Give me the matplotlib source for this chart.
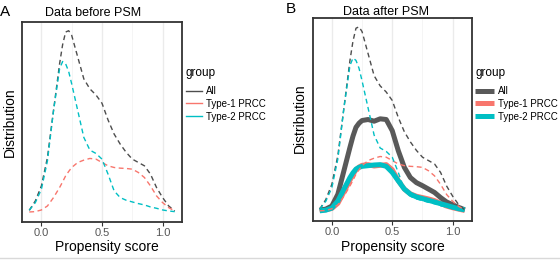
import matplotlib
matplotlib.use("Agg")
import matplotlib.pyplot as plt
from matplotlib.lines import Line2D

plt.rcParams['font.family'] = ['Liberation Sans', 'DejaVu Sans']

# propensity score grid (evaluation points)
score = [-0.10, -0.05, 0.00, 0.05, 0.10, 0.15, 0.175, 0.20, 0.225, 0.25,
         0.30, 0.35, 0.40, 0.45, 0.50, 0.55, 0.60, 0.65, 0.70, 0.75,
         0.80, 0.85, 0.90, 0.95, 1.00, 1.05, 1.10]

# before PSM (dashed)
all_before = [0.05, 0.33, 0.78, 1.63, 3.03, 4.43, 5.00, 5.38, 5.42, 5.28,
              4.63, 3.98, 3.68, 3.50, 3.25, 2.75, 2.33, 2.03, 1.78, 1.58,
              1.48, 1.38, 1.13, 0.73, 0.43, 0.18, 0.03]
type1_before = [0.00, 0.01, 0.06, 0.18, 0.43, 0.73, 0.90, 1.08, 1.21, 1.33,
                1.48, 1.55, 1.60, 1.58, 1.48, 1.38, 1.33, 1.31, 1.30, 1.28,
                1.18, 1.03, 0.78, 0.48, 0.28, 0.13, 0.03]
type2_before = [0.05, 0.28, 0.68, 1.53, 3.03, 4.28, 4.50, 4.43, 4.20, 3.83,
                3.03, 2.23, 1.85, 1.75, 1.58, 1.13, 0.63, 0.43, 0.35, 0.30,
                0.25, 0.21, 0.15, 0.11, 0.06, 0.03, 0.01]

# after PSM (solid, thick)
all_after = [0.02, 0.05, 0.14, 0.49, 1.18, 1.87, 2.20, 2.46, 2.58, 2.66,
             2.69, 2.64, 2.71, 2.69, 2.36, 1.77, 1.28, 0.98, 0.83, 0.74,
             0.64, 0.54, 0.39, 0.26, 0.18, 0.10, 0.03]
type1_after = [0.02, 0.03, 0.07, 0.22, 0.56, 0.90, 1.07, 1.21, 1.29, 1.34,
               1.36, 1.32, 1.34, 1.36, 1.21, 0.89, 0.64, 0.50, 0.43, 0.39,
               0.35, 0.30, 0.22, 0.14, 0.09, 0.05, 0.01]
type2_after = [0.00, 0.02, 0.08, 0.29, 0.64, 0.98, 1.12, 1.23, 1.28, 1.31,
               1.33, 1.35, 1.36, 1.31, 1.13, 0.88, 0.64, 0.49, 0.41, 0.36,
               0.31, 0.26, 0.21, 0.16, 0.11, 0.06, 0.03]

groups = ['All', 'Type-1 PRCC', 'Type-2 PRCC']
colors = {'All': '#4d4d4d', 'Type-1 PRCC': '#F8766D', 'Type-2 PRCC': '#00BFC4'}
thick_colors = {'All': '#595959', 'Type-1 PRCC': '#F8766D', 'Type-2 PRCC': '#00BFC4'}
xticks = [0.0, 0.5, 1.0]
xticklabels = ['0.0', '0.5', '1.0']

W, H = 560, 261
fig = plt.figure(figsize=(W / 100, H / 100), dpi=100)

def px_axes(l, t, r, b):
    return fig.add_axes([l / W, 1 - b / H, (r - l) / W, (b - t) / H])

axA = px_axes(22, 22, 182, 222)
axB = px_axes(312.5, 18, 472, 221)

before = {'All': all_before, 'Type-1 PRCC': type1_before, 'Type-2 PRCC': type2_before}
after = {'All': all_after, 'Type-1 PRCC': type1_after, 'Type-2 PRCC': type2_after}

def style(ax):
    ax.set_xlim(-0.16, 1.16)
    ax.set_ylim(-0.3, 5.68)
    ax.set_yticks([])
    ax.set_xticks(xticks)
    ax.set_xticklabels(xticklabels)
    ax.set_xticks([0.25, 0.75], minor=True)
    ax.tick_params(axis='x', which='major', length=3, width=0.8, color='#333333',
                   labelsize=8, labelcolor='#555555', pad=1.5)
    ax.tick_params(axis='x', which='minor', length=0)
    for v in xticks:
        ax.axvline(v, color='#EBEBEB', lw=1.0, zorder=0)
    for v in [0.25, 0.75]:
        ax.axvline(v, color='#F2F2F2', lw=0.5, zorder=0)
    for s in ax.spines.values():
        s.set_color('#333333')
        s.set_linewidth(1.3)

dash = (3.5, 2.5)
THICK = 3.6

# Panel A
for g in groups:
    axA.plot(score, before[g], color=colors[g], lw=1.0, linestyle=(0, dash), label=g, zorder=3)
style(axA)

# Panel B
for g in ['Type-1 PRCC', 'All', 'Type-2 PRCC']:
    axB.plot(score, after[g], color=thick_colors[g], lw=THICK, solid_capstyle='butt', zorder=2)
for g in groups:
    axB.plot(score, before[g], color=colors[g], lw=1.0, linestyle=(0, dash), zorder=3)
style(axB)

# Titles, labels
fig.text(93 / W, 1 - 13 / H, 'Data before PSM', ha='center', va='center', fontsize=9)
fig.text(386 / W, 1 - 12 / H, 'Data after PSM', ha='center', va='center', fontsize=9)
fig.text(5 / W, 1 - 12 / H, 'A', ha='center', va='center', fontsize=11)
fig.text(291 / W, 1 - 9 / H, 'B', ha='center', va='center', fontsize=11)
fig.text(10 / W, 1 - 122 / H, 'Distribution', rotation=90, ha='center', va='center', fontsize=10)
fig.text(300 / W, 1 - 118 / H, 'Distribution', rotation=90, ha='center', va='center', fontsize=10)
fig.text(107 / W, 1 - 247 / H, 'Propensity score', ha='center', va='center', fontsize=10)
fig.text(393 / W, 1 - 247 / H, 'Propensity score', ha='center', va='center', fontsize=10)

# Legends
hA = [Line2D([], [], color=colors[g], lw=1.0) for g in groups]
legA = fig.legend(hA, groups, loc='upper left', bbox_to_anchor=(186 / W, 1 - 67 / H),
                  frameon=False, title='group', fontsize=7, title_fontsize=8.5,
                  handlelength=1.6, handletextpad=0.5, labelspacing=0.3,
                  borderpad=0, borderaxespad=0, alignment='left')
legA._legend_box.sep = 5
hB = [Line2D([], [], color=thick_colors[g], lw=THICK, solid_capstyle='butt') for g in groups]
legB = fig.legend(hB, groups, loc='upper left', bbox_to_anchor=(475 / W, 1 - 67 / H),
                  frameon=False, title='group', fontsize=7, title_fontsize=8.5,
                  handlelength=2.0, handletextpad=0.4, labelspacing=0.3,
                  borderpad=0, borderaxespad=0, alignment='left')
legB._legend_box.sep = 5

# bottom separator line
fig.add_artist(Line2D([0, 1], [1 - 258 / H, 1 - 258 / H], transform=fig.transFigure,
                      color='#D9D9D9', lw=1.0))

fig.savefig('out.png', dpi=100)
